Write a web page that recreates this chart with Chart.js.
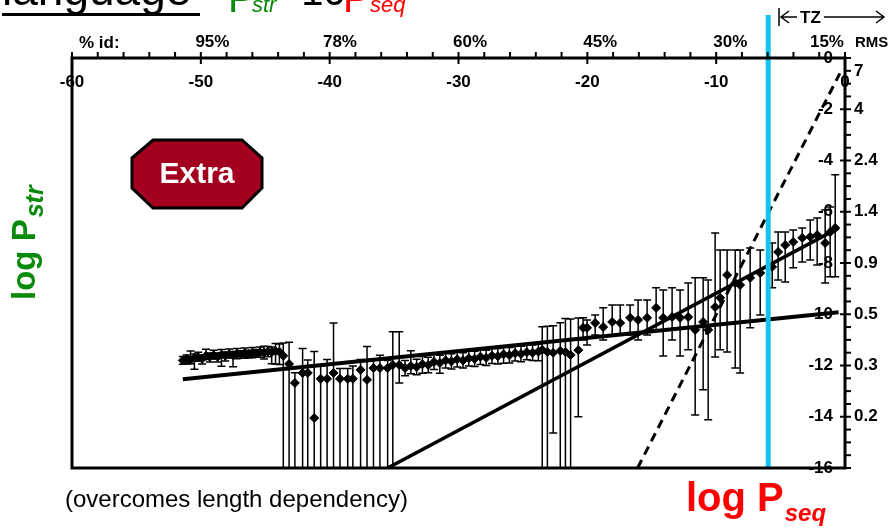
<!DOCTYPE html>
<html>
<head>
<meta charset="utf-8">
<script src="https://cdn.jsdelivr.net/npm/chart.js@4.4.1/dist/chart.umd.min.js"></script>
<style>
  html, body { margin: 0; padding: 0; background: #fff; }
  #wrap { position: relative; width: 893px; height: 530px; }
</style>
</head>
<body>
<div id="wrap"><canvas id="canvas" width="893" height="530"></canvas></div>
<script>
// axis labels
const xTicks = [-60, -50, -40, -30, -20, -10, 0];
const yTicks = [0, -2, -4, -6, -8, -10, -12, -14, -16];
const idLabels = ["95%", "78%", "60%", "45%", "30%", "15%"];
const idPos = [-49.1, -39.2, -29.1, -19.0, -8.9, -1.4];
const rmsLabels = ["7", "4", "2.4", "1.4", "0.9", "0.5", "0.3", "0.2"];
const rmsPos = [-0.5, -2, -4, -6, -8, -10, -12, -14];

// measured points (log Pseq, log Pstr) with error bar sizes
const ptX = [
  -51.4, -51.1, -50.8, -50.5, -50.2, -49.9, -49.6, -49.3, -49.0, -48.7, -48.4, -48.1, -47.8,
  -47.5, -47.2, -46.9, -46.6, -46.3, -46.0, -45.7, -45.4, -45.1, -44.8, -44.5, -44.2, -43.9,
  -43.6, -43.15, -42.7, -42.1, -41.7, -41.2, -40.7, -40.2, -39.7, -39.2, -38.6, -38.2,
  -37.6, -37.1, -36.6, -36.1, -35.5, -35.1,
  -34.6, -34.15, -33.7, -33.25, -32.8, -32.35, -31.9, -31.45, -31.0, -30.55, -30.1, -29.65,
  -29.2, -28.75, -28.3, -27.85, -27.4, -26.95, -26.5, -26.05, -25.6, -25.15, -24.7, -24.25, -23.8,
  -23.5, -23.1, -22.65, -22.1, -21.7, -21.3, -20.7,
  -20.33, -20.02, -19.39, -18.77, -18.07, -17.45, -16.68, -16.06, -15.36, -14.66, -14.11,
  -13.42, -12.8, -12.17, -11.63, -11.01, -10.62, -10.08, -9.69, -9.15, -8.52, -8.14, -7.36,
  -6.58, -5.65, -5.19, -4.64, -4.02, -3.32, -2.7, -2.16, -1.54, -1.15, -0.76
];
const ptY = [
  -11.8, -11.74, -11.78, -11.7, -11.68, -11.74, -11.62, -11.66, -11.6, -11.66, -11.58, -11.62, -11.56,
  -11.6, -11.54, -11.57, -11.52, -11.55, -11.5, -11.53, -11.48, -11.5, -11.46, -11.48, -11.44, -11.46,
  -11.62, -11.94, -12.68, -12.29, -12.29, -14.05, -12.52, -12.52, -12.29, -12.52, -12.52, -12.52,
  -12.17, -12.56, -12.1, -12.1, -12.1, -11.98,
  -11.98, -12.1, -12.02, -12.06, -11.95, -11.98, -11.86, -11.9, -11.8, -11.84, -11.76, -11.8,
  -11.72, -11.74, -11.66, -11.7, -11.62, -11.64, -11.56, -11.6, -11.52, -11.55, -11.48, -11.5, -11.46,
  -11.39, -11.47, -11.5, -11.43, -11.47, -11.59, -11.4,
  -10.53, -10.53, -10.34, -10.5, -10.3, -10.34, -10.14, -10.22, -10.14, -9.75, -10.14,
  -10.11, -10.14, -10.11, -10.61, -10.3, -10.61, -9.72, -9.36, -8.47, -8.78, -8.86, -8.58,
  -8.39, -8.15, -7.57, -7.3, -7.18, -7.02, -6.98, -6.91, -7.22, -6.79, -6.63
];
const errUp = [
  0.15, 0.15, 0.35, 0.15, 0.2, 0.15, 0.25, 0.15, 0.2, 0.15, 0.2, 0.15, 0.2,
  0.15, 0.2, 0.15, 0.2, 0.15, 0.2, 0.15, 0.2, 0.25, 0.2, 0.2, 0.3, 0.3,
  0.5, 0.85, 0.4, 0.95, 0.5, 2.6, 0.5, 0.75, 1.95, 0.4, 0.4, 0.5,
  0.4, 1.3, 0.35, 0.5, 0.3, 1.3,
  1.3, 0.3, 0.6, 0.3, 0.3, 0.3, 0.3, 0.3, 0.3, 0.3, 0.3, 0.3,
  0.3, 0.3, 0.3, 0.3, 0.3, 0.3, 0.3, 0.3, 0.3, 0.3, 0.3, 0.3, 0.3,
  0.9, 1.0, 1.05, 1.1, 1.3, 1.4, 1.25,
  0.39, 0.31, 0.31, 0.75, 0.66, 0.7, 0.5, 0.78, 0.7, 0.78, 1.09,
  1.14, 1.09, 1.33, 2.03, 1.72, 1.95, 2.89, 1.87, 0.98, 1.29, 1.37, 1.17,
  0.9, 0.93, 0.78, 0.51, 0.47, 0.39, 0.66, 0.67, 1.29, 0.98, 2.07
];
const errDown = [
  0.15, 0.2, 0.15, 0.45, 0.15, 0.2, 0.15, 0.2, 0.15, 0.2, 0.45, 0.2, 0.15,
  0.45, 0.2, 0.15, 0.2, 0.15, 0.2, 0.15, 0.2, 0.25, 0.2, 0.45, 0.5, 0.5,
  8, 8, 8, 8, 8, 6, 8, 8, 8, 8, 8, 8,
  8, 8, 8, 8, 8, 8,
  0.7, 0.3, 0.3, 0.3, 0.35, 0.3, 0.3, 0.4, 0.3, 0.3, 0.3, 0.3,
  0.3, 0.3, 0.3, 0.3, 0.3, 0.3, 0.35, 0.3, 0.3, 0.3, 0.3, 0.3, 0.35,
  8, 8, 3.13, 8, 8, 8, 2.6,
  0.47, 0.67, 0.47, 0.5, 0.51, 0.47, 0.67, 0.78, 0.67, 0.86, 1.49,
  0.89, 1.49, 1.28, 3.32, 2.65, 3.51, 1.95, 2.03, 3.0, 3.32, 3.43, 1.95,
  1.64, 0.82, 1.09, 1.44, 1.01, 0.94, 0.9, 1.17, 1.56, 1.75, 1.91
];

// fitted lines
const fitFlatX = [-51.4, -0.5];
const fitFlatY = [-12.54, -9.92];
const fitSteepX = [-35.5, -0.5];
const fitSteepY = [-16, -6.64];
const fitDashX = [-16.1, -0.4];
const fitDashY = [-16, -0.6];

// twilight zone marker
const tzX = -5.96;

const toXY = (xs, ys) => xs.map((v, i) => ({ x: v, y: ys[i] }));

const errorBars = {
  id: "errorBars",
  beforeDatasetsDraw(chart) {
    const { ctx, chartArea: a, scales: { x, y } } = chart;
    ctx.save();
    ctx.beginPath();
    ctx.rect(a.left, a.top, a.right - a.left, a.bottom - a.top);
    ctx.clip();
    ctx.strokeStyle = "#000";
    ctx.lineWidth = 1.5;
    ptX.forEach((v, i) => {
      const px = x.getPixelForValue(v);
      const top = y.getPixelForValue(ptY[i] + errUp[i]);
      const bot = y.getPixelForValue(ptY[i] - errDown[i]);
      ctx.beginPath();
      ctx.moveTo(px, top);
      ctx.lineTo(px, bot);
      ctx.moveTo(px - 4, top);
      ctx.lineTo(px + 4, top);
      ctx.moveTo(px - 4, bot);
      ctx.lineTo(px + 4, bot);
      ctx.stroke();
    });
    ctx.restore();
  },
};

const frame = {
  id: "frame",
  afterDatasetsDraw(chart) {
    const { ctx, chartArea: a, scales: { x, y } } = chart;
    const L = a.left, R = a.right, T = a.top, B = a.bottom;
    ctx.save();

    // cyan TZ line
    ctx.strokeStyle = "#14C2F2";
    ctx.lineWidth = 5;
    ctx.beginPath();
    ctx.moveTo(x.getPixelForValue(tzX), 15);
    ctx.lineTo(x.getPixelForValue(tzX), B);
    ctx.stroke();

    // box
    ctx.strokeStyle = "#000";
    ctx.lineWidth = 3;
    ctx.strokeRect(L, T, R - L, B - T);

    // top ticks
    ctx.lineWidth = 2;
    for (let v = -60; v <= 0; v += 2) {
      const px = x.getPixelForValue(v);
      const major = v % 10 === 0;
      ctx.beginPath();
      ctx.moveTo(px, T - 6);
      ctx.lineTo(px, major ? T + 6 : T);
      ctx.stroke();
    }
    // right ticks
    for (let v = 0; v >= -16; v -= 0.5) {
      const py = y.getPixelForValue(v);
      const major = v % 2 === 0;
      ctx.beginPath();
      ctx.moveTo(major ? R - 5 : R, py);
      ctx.lineTo(R + 6, py);
      ctx.stroke();
    }

    ctx.fillStyle = "#000";
    ctx.font = "bold 17px 'Liberation Sans', Arial, sans-serif";
    ctx.textBaseline = "middle";
    ctx.textAlign = "center";
    xTicks.forEach((v) => ctx.fillText(String(v), x.getPixelForValue(v), 82));
    idLabels.forEach((t, i) => ctx.fillText(t, x.getPixelForValue(idPos[i]), 42));
    ctx.textAlign = "right";
    yTicks.forEach((v) => ctx.fillText(String(v), R - 12, y.getPixelForValue(v)));
    ctx.textAlign = "left";
    rmsLabels.forEach((t, i) => ctx.fillText(t, R + 9, y.getPixelForValue(rmsPos[i])));
    ctx.fillText("% id:", 79, 43);
    ctx.font = "bold 15px 'Liberation Sans', Arial, sans-serif";
    ctx.fillText("RMS", 855, 43);

    // TZ arrows
    ctx.lineWidth = 1.5;
    ctx.beginPath();
    ctx.moveTo(779, 8); ctx.lineTo(779, 26);
    ctx.moveTo(781, 17); ctx.lineTo(797, 17);
    ctx.moveTo(789, 11); ctx.lineTo(781, 17); ctx.lineTo(789, 23);
    ctx.moveTo(824, 17); ctx.lineTo(884, 17);
    ctx.moveTo(876, 11); ctx.lineTo(884, 17); ctx.lineTo(876, 23);
    ctx.stroke();
    ctx.font = "bold 17px 'Liberation Sans', Arial, sans-serif";
    ctx.textAlign = "left";
    ctx.fillText("TZ", 800, 18);

    // Extra badge
    ctx.beginPath();
    ctx.moveTo(153, 140); ctx.lineTo(242, 140); ctx.lineTo(262, 158); ctx.lineTo(262, 188);
    ctx.lineTo(242, 208); ctx.lineTo(153, 208); ctx.lineTo(132, 188); ctx.lineTo(132, 158);
    ctx.closePath();
    ctx.fillStyle = "#A3001F";
    ctx.fill();
    ctx.lineWidth = 3;
    ctx.strokeStyle = "#000";
    ctx.stroke();
    ctx.fillStyle = "#fff";
    ctx.font = "bold 30px 'Liberation Sans', Arial, sans-serif";
    ctx.textAlign = "center";
    ctx.fillText("Extra", 197, 175);

    // title remnant at the top
    ctx.textBaseline = "alphabetic";
    ctx.textAlign = "left";
    ctx.fillStyle = "#000";
    ctx.font = "46px 'Liberation Sans', Arial, sans-serif";
    ctx.fillText("language", 2, 5);
    ctx.fillRect(2, 13, 198, 3);
    ctx.font = "40px 'Liberation Sans', Arial, sans-serif";
    ctx.fillStyle = "#0A8A0A";
    ctx.fillText("P", 228, 12);
    ctx.fillStyle = "#000";
    ctx.fillText("~10", 278, 5);
    ctx.fillStyle = "#FF0000";
    ctx.fillText("P", 343, 12);
    ctx.font = "italic 22px 'Liberation Sans', Arial, sans-serif";
    ctx.fillStyle = "#0A8A0A";
    ctx.fillText("str", 252, 12);
    ctx.fillStyle = "#FF0000";
    ctx.fillText("seq", 370, 12);

    // footer and axis titles
    ctx.fillStyle = "#000";
    ctx.font = "24px 'Liberation Sans', Arial, sans-serif";
    ctx.textBaseline = "middle";
    ctx.fillText("(overcomes length dependency)", 65, 500);

    ctx.textBaseline = "alphabetic";
    ctx.fillStyle = "#FF0000";
    ctx.font = "bold 40px 'Liberation Sans', Arial, sans-serif";
    ctx.fillText("log P", 686, 511);
    const w = ctx.measureText("log P").width;
    ctx.font = "italic bold 24px 'Liberation Sans', Arial, sans-serif";
    ctx.fillText("seq", 686 + w + 1, 521);

    ctx.translate(35, 300);
    ctx.rotate(-Math.PI / 2);
    ctx.fillStyle = "#0A8A0A";
    ctx.font = "bold 33px 'Liberation Sans', Arial, sans-serif";
    ctx.fillText("log P", 0, 0);
    const w2 = ctx.measureText("log P").width;
    ctx.font = "italic bold 25px 'Liberation Sans', Arial, sans-serif";
    ctx.fillText("str", w2 + 2, 8);

    ctx.restore();
  },
};

const ctx = document.getElementById("canvas");
const myChart = new Chart(ctx, {
  type: "scatter",
  data: {
    datasets: [
      {
        data: toXY(ptX, ptY),
        pointStyle: "rectRot",
        pointRadius: 4.5,
        backgroundColor: "#000",
        borderColor: "#000",
        borderWidth: 1,
      },
      {
        data: toXY(fitFlatX, fitFlatY),
        showLine: true,
        borderColor: "#000",
        borderWidth: 4,
        pointRadius: 0,
      },
      {
        data: toXY(fitSteepX, fitSteepY),
        showLine: true,
        borderColor: "#000",
        borderWidth: 3.5,
        pointRadius: 0,
      },
      {
        data: toXY(fitDashX, fitDashY),
        showLine: true,
        borderColor: "#000",
        borderWidth: 3,
        borderDash: [9, 6],
        pointRadius: 0,
      },
    ],
  },
  options: {
    responsive: false,
    animation: false,
    layout: { padding: { left: 72, right: 48, top: 58, bottom: 62 } },
    plugins: { legend: { display: false }, tooltip: { enabled: false } },
    scales: {
      x: { type: "linear", min: -60, max: 0, display: false },
      y: { type: "linear", min: -16, max: 0, display: false },
    },
  },
  plugins: [errorBars, frame],
});
</script>
</body>
</html>
